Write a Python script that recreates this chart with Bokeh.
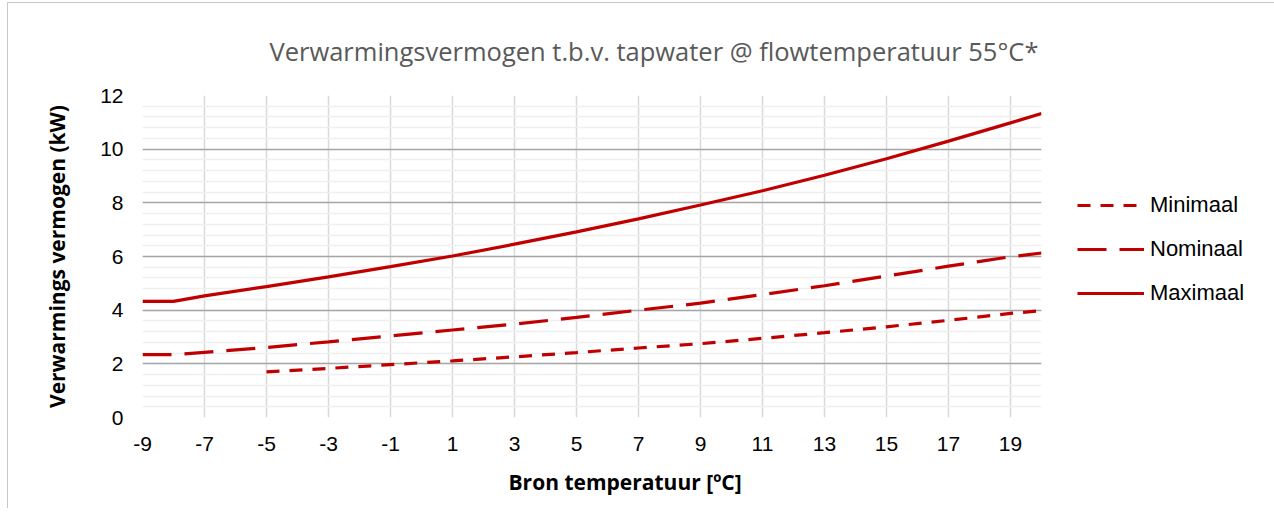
from bokeh.plotting import figure
from bokeh.models import Range1d, FixedTicker, SingleIntervalTicker, Legend, LegendItem, Title
from bokeh.embed import file_html
from bokeh.resources import INLINE

# ---- data ----
x_ticks = [-9, -7, -5, -3, -1, 1, 3, 5, 7, 9, 11, 13, 15, 17, 19]
x_tick_labels = ["-9", "-7", "-5", "-3", "-1", "1", "3", "5", "7", "9", "11", "13", "15", "17", "19"]
y_ticks = [0, 2, 4, 6, 8, 10, 12]

x_min = [-5, -3, -1, 1, 3, 5, 7, 9, 11, 13, 15, 17, 19, 20]
y_min = [1.70, 1.83, 1.97, 2.11, 2.26, 2.42, 2.59, 2.75, 2.95, 3.16, 3.38, 3.62, 3.88, 3.98]

x_nom = [-9, -8, -7, -5, -3, -1, 1, 3, 5, 7, 9, 11, 13, 15, 17, 19, 20]
y_nom = [2.34, 2.34, 2.43, 2.61, 2.82, 3.04, 3.26, 3.48, 3.73, 4.00, 4.26, 4.58, 4.91, 5.27, 5.64, 5.99, 6.13]

x_max = [-9, -8, -7, -5, -3, -1, 1, 3, 5, 7, 9, 11, 13, 15, 17, 19, 20]
y_max = [4.33, 4.33, 4.53, 4.88, 5.24, 5.62, 6.02, 6.46, 6.92, 7.40, 7.92, 8.45, 9.03, 9.64, 10.30, 10.98, 11.33]

series_names = ["Minimaal", "Nominaal", "Maximaal"]
title_text = "Verwarmingsvermogen t.b.v. tapwater @ flowtemperatuur 55°C*"
x_label = "Bron temperatuur [ºC]"
y_label = "Verwarmings vermogen (kW)"

RED = "#C00000"

p = figure(
    frame_width=899, frame_height=322,
    min_border_left=134, min_border_right=225, min_border_top=86, min_border_bottom=91,
    x_range=Range1d(-9, 20), y_range=Range1d(0, 12),
    output_backend="svg", toolbar_location=None,
    title=title_text,
)
p.margin = (2, 0, 0, 7)
p.styles = {"border-top": "1px solid #c8c8c8", "border-left": "1px solid #c8c8c8"}

p.title.align = "left"
p.title.offset = 127
p.title.text_font = "Open Sans"
p.title.text_font_style = "normal"
p.title.text_font_size = "25.5px"
p.title.text_color = "#595959"
p.title.standoff = 56

p.outline_line_color = None
p.background_fill_color = "white"
p.border_fill_color = "white"

# axes
p.xaxis.ticker = FixedTicker(ticks=x_ticks)
p.xaxis.major_label_overrides = {t: s for t, s in zip(x_ticks, x_tick_labels)}
p.yaxis.ticker = SingleIntervalTicker(interval=2, num_minor_ticks=5)
for ax in (p.xaxis[0], p.yaxis[0]):
    ax.axis_line_color = None
    ax.major_tick_line_color = None
    ax.minor_tick_line_color = None
    ax.major_label_text_font = "Liberation Sans"
    ax.major_label_text_font_size = "21px"
    ax.major_label_text_color = "#000000"
    ax.axis_label_text_font = "Open Sans"
    ax.axis_label_text_font_style = "bold"
    ax.axis_label_text_font_size = "21px"
    ax.axis_label_text_color = "#000000"
p.yaxis.axis_label = y_label
p.xaxis.major_label_standoff = 13
p.yaxis.major_label_standoff = 13
p.yaxis.axis_label_standoff = 26

# x-axis title (centred on the chart area, as in the original)
xt = Title(text=x_label, align="left", offset=366, standoff=24,
           text_font="Open Sans", text_font_style="bold", text_font_size="21px",
           text_color="#000000")
p.add_layout(xt, "below")

# grids
p.xgrid.ticker = FixedTicker(ticks=x_ticks)
p.xgrid.grid_line_color = "#d9d9d9"
p.xgrid.grid_line_width = 1.5
p.ygrid.grid_line_color = "#a6a6a6"
p.ygrid.grid_line_width = 1.5
p.ygrid.minor_grid_line_color = "#efefef"
p.ygrid.minor_grid_line_width = 1.5

r_min = p.line(x_min, y_min, line_color=RED, line_width=3.2, line_dash="13 10")
r_nom = p.line(x_nom, y_nom, line_color=RED, line_width=3.2, line_dash="29 13")
r_max = p.line(x_max, y_max, line_color=RED, line_width=3.2)

legend = Legend(
    items=[LegendItem(label=series_names[0], renderers=[r_min]),
           LegendItem(label=series_names[1], renderers=[r_nom]),
           LegendItem(label=series_names[2], renderers=[r_max])],
    location=(36, 111),
    glyph_width=67, glyph_height=26, label_height=26, spacing=18,
    label_standoff=6, padding=0, margin=0,
    border_line_color=None, background_fill_alpha=0,
    label_text_font="Liberation Sans", label_text_font_size="22px", label_text_color="#000000",
)
p.add_layout(legend, "right")

open("out.html", "w").write(file_html(p, INLINE))
